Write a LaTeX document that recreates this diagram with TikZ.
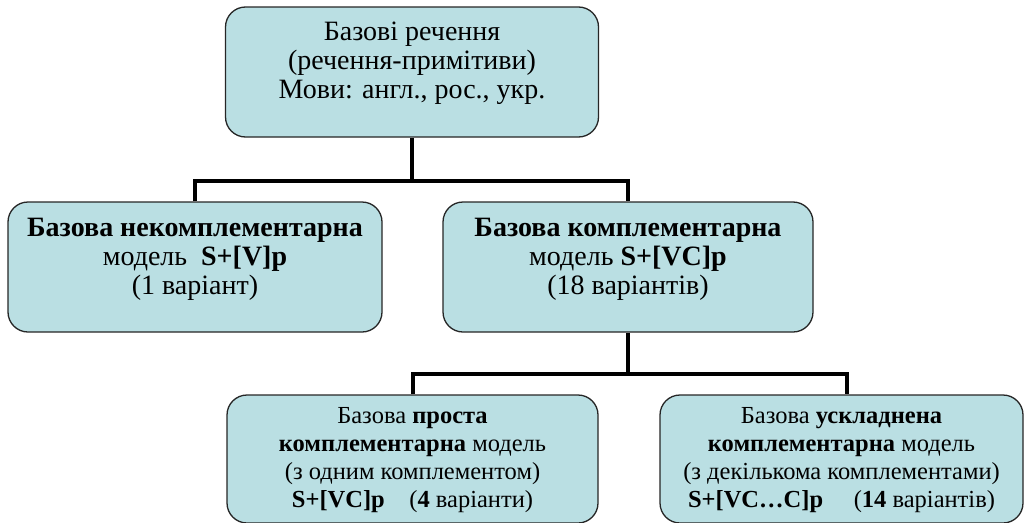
\documentclass[tikz,border=0pt]{standalone}
\usepackage{fontspec}
\setmainfont{Liberation Serif}
\definecolor{boxfill}{RGB}{186,223,227}
\begin{document}
\begin{tikzpicture}[x=1pt,y=-1pt,
  box/.style={draw=black!85,line width=1.3pt,fill=boxfill,rounded corners=20pt,inner sep=0pt},
  txt/.style={align=center,inner sep=0pt},
  big/.style={font=\fontsize{28}{29}\selectfont},
  small/.style={font=\fontsize{24.5}{27.8}\selectfont},
  conn/.style={line width=4pt,black}]
\useasboundingbox (0,0) rectangle (1024,522);
\node[box,minimum width=373pt,minimum height=130pt] (top) at (412,72) {};
\node[box,minimum width=374pt,minimum height=130pt] (left) at (195,267) {};
\node[box,minimum width=370pt,minimum height=130pt] (mid) at (628,267) {};
\node[box,minimum width=371pt,minimum height=128pt] (bl) at (412.5,459) {};
\node[box,minimum width=363pt,minimum height=128pt] (br) at (841.5,459) {};
\node[txt,big] (toptxt) at ([yshift=9pt]top.center) {Базові речення\\(речення-примітиви)\\Мови: англ., рос., укр.};
\node[txt,big] (lefttxt) at ([yshift=8pt]left.center) {\textbf{Базова некомплементарна}\\модель~~\textbf{S+[V]p}\\(1 варіант)};
\node[txt,big] (midtxt) at ([yshift=8pt]mid.center) {\textbf{Базова комплементарна}\\модель \textbf{S+[VC]p}\\(18 варіантів)};
\node[txt,small] (bltxt) at ([yshift=-1pt]bl.center) {Базова \textbf{проста}\\\textbf{комплементарна} модель\\(з одним комплементом)\\\textbf{S+[VC]p}\quad(\textbf{4} варіанти)};
\node[txt,small] (brtxt) at ([yshift=-1pt]br.center) {Базова \textbf{ускладнена}\\\textbf{комплементарна} модель\\(з декількома комплементами)\\\textbf{S+[VC…C]p}\quad\ (\textbf{14} варіантів)};
\coordinate (b1) at ([yshift=-43pt]top.south);
\coordinate (b2) at ([yshift=-41pt]mid.south);
\draw[conn] (top.south) -- (b1);
\draw[conn] (left.north) |- (b1) -| (mid.north);
\draw[conn] (mid.south) -- (b2);
\draw[conn] (bl.north) |- (b2) -| ([xshift=5pt]br.north);
\end{tikzpicture}
\end{document}
